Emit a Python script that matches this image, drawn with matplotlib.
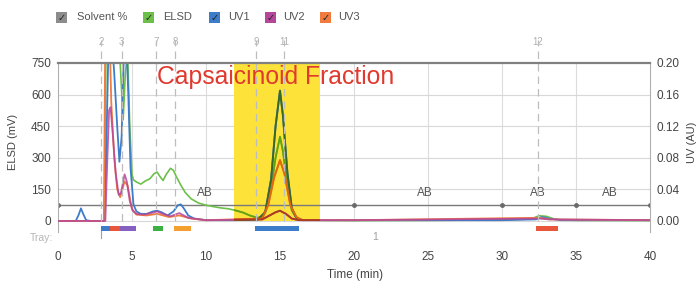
import matplotlib
matplotlib.use("Agg")
import matplotlib.pyplot as plt
from matplotlib.patches import Rectangle
from matplotlib.colors import to_rgb
import numpy as np

plt.rcParams['font.family'] = ['Liberation Sans', 'DejaVu Sans']

# ---------------- data ----------------
elsd_t = [0, 1, 2, 3.0, 3.15, 3.25, 3.4, 3.7, 4.0, 4.2, 4.4, 4.55, 4.7, 4.85, 5.0, 5.1, 5.3, 5.6, 5.9,
          6.2, 6.5, 6.7, 6.9, 7.1, 7.3, 7.6, 7.8, 8.0, 8.3, 8.6, 9.0, 9.5, 10, 10.5, 11, 11.5, 12, 12.5,
          13, 13.5, 13.8, 14.1, 14.4, 14.7, 15.0, 15.2, 15.5, 15.8, 16.1, 16.5, 18, 20, 25, 30, 32,
          32.5, 33, 33.5, 34, 35, 40]
elsd_v = [0, 0, 0, 0, 5, 900, 1000, 950, 900, 750, 480, 700, 800, 450, 220, 195, 185, 175, 190,
          200, 225, 232, 210, 192, 220, 250, 240, 210, 170, 135, 105, 85, 75, 68, 62, 58, 50, 40,
          25, 15, 20, 60, 160, 300, 400, 330, 160, 50, 15, 5, 3, 2, 3, 5, 10,
          25, 22, 10, 5, 3, 2]

uv1_t = [0, 1.2, 1.4, 1.55, 1.7, 1.9, 2.2, 3.1, 3.25, 3.4, 3.6, 3.8, 4.0, 4.15, 4.3, 4.45, 4.6, 4.75,
         4.9, 5.1, 5.3, 5.6, 6.0, 6.4, 6.7, 7.0, 7.4, 7.8, 8.1, 8.3, 8.5, 8.8, 9.2, 10, 12, 13.5, 14.0,
         14.4, 14.7, 15.0, 15.2, 15.5, 15.8, 16.1, 16.5, 20, 30, 32.3, 32.7, 33.2, 34, 40]
uv1_v = [0, 0, .008, .016, .009, .001, 0, 0, .08, .213, .24, .187, .12, .075, .107, .213, .24, .16,
         .067, .021, .012, .009, .009, .012, .013, .011, .007, .012, .020, .021, .016, .007, .003, .001,
         .001, .002, .011, .053, .12, .165, .133, .061, .016, .004, .001, .001, .001, .002, .005, .003,
         .001, .001]

uv2_t = [0, 3.2, 3.3, 3.45, 3.55, 3.7, 3.9, 4.1, 4.25, 4.5, 4.65, 4.85, 5.05, 5.3, 5.8, 6.3, 6.7, 7.1,
         7.6, 8.2, 8.8, 10, 13.8, 14.3, 14.7, 15.0, 15.4, 15.8, 16.3, 20, 32.5, 33.2, 40]
uv2_v = [0, 0, .06, .14, .144, .11, .06, .033, .035, .059, .05, .025, .013, .009, .008, .010, .012,
         .009, .006, .010, .004, .001, .002, .007, .011, .013, .009, .003, .001, .001, .003, .002, .001]

uv3_t = [0, 3.1, 3.2, 3.45, 3.6, 3.8, 4.0, 4.2, 4.5, 4.7, 5.0, 5.3, 6.0, 6.7, 7.5, 8.2, 9, 10, 13.8,
         14.2, 14.6, 15.0, 15.3, 15.7, 16.1, 16.5, 20, 32.5, 33.2, 40]
uv3_v = [0, 0, .25, .26, .15, .08, .04, .03, .05, .045, .015, .008, .007, .009, .005, .007, .003, .001,
         .003, .02, .055, .077, .06, .02, .005, .001, .001, .004, .002, .001]

solvent_t = [0, 20, 30, 35, 40]
solvent_level = 76
ab_labels_t = [9.9, 24.8, 32.4, 37.3]

frac_start = [2.9, 3.5, 4.2, 6.4, 7.85, 13.3, 32.3]
frac_end = [3.5, 4.2, 5.3, 7.1, 9.0, 16.3, 33.8]
frac_col = ['#3d7cc9', '#e8563c', '#8560c0', '#3cb043', '#f4a030', '#3d7cc9', '#e8563c']

marker_t = [2.9, 4.3, 6.6, 7.9, 13.4, 15.3, 32.4]
marker_lab = ['2', '3', '7', '8', '9', '11', '12']

fraction_span = (11.9, 17.7)

xticks = [0, 5, 10, 15, 20, 25, 30, 35, 40]
yticks = [0, 150, 300, 450, 600, 750]
yticks_r = [0.00, 0.04, 0.08, 0.12, 0.16, 0.20]

c_solv, c_elsd, c_uv1, c_uv2, c_uv3 = '#8c8c8c', '#6cc04a', '#3d7cc9', '#b5479b', '#f07b3f'
yellow = '#fde23a'


def multiply(c, base=yellow, k=0.95):
    a = np.array(to_rgb(c))
    b = np.array(to_rgb(base))
    return tuple(np.clip(a * b * k, 0, 1))


# ---------------- figure ----------------
fig = plt.figure(figsize=(6.98, 2.84), dpi=100)
ax = fig.add_axes([58/698, 1-231.5/284, 592/698, (231.5-63)/284])
ymin = -50
ax.set_xlim(0, 40)
ax.set_ylim(ymin, 750)
ax2 = ax.twinx()
ax2.set_ylim(ymin*0.2/750, 0.2)

# grid
for x in xticks[1:-1]:
    ax.plot([x, x], [0, 750], color='#dcdcdc', lw=0.8, zorder=0)
for y in yticks[:-1]:
    ax.plot([0, 40], [y, y], color='#d8d8d8', lw=0.8, zorder=0)
ax2.plot([0, 40], [0.2, 0.2], color='#808080', lw=1.6, zorder=8, clip_on=False)

for s in ['top', 'bottom']:
    ax.spines[s].set_visible(False)
    ax2.spines[s].set_visible(False)
ax.spines['left'].set_color('#b0b0b0')
ax2.spines['right'].set_color('#b0b0b0')
ax2.spines['left'].set_visible(False)
ax.spines['right'].set_visible(False)

ax.set_xticks(xticks)
ax.set_xticklabels([str(x) for x in xticks])
ax.tick_params(axis='x', length=0, pad=14, labelsize=8.5, labelcolor='#444444')
ax.set_yticks(yticks)
ax.tick_params(axis='y', length=0, pad=5, labelsize=8.5, labelcolor='#444444')
ax2.set_yticks(yticks_r)
ax2.set_yticklabels(['%.2f' % v for v in yticks_r])
ax2.tick_params(axis='y', length=0, pad=5, labelsize=8.5, labelcolor='#444444')

# fraction highlight (under the traces, on the primary axes)
ax.add_patch(Rectangle((fraction_span[0], 0), fraction_span[1]-fraction_span[0], 750,
                       facecolor=yellow, edgecolor='none', zorder=0.5))
clip_rect1 = Rectangle((fraction_span[0], 0), fraction_span[1]-fraction_span[0], 750,
                       transform=ax.transData, facecolor='none', edgecolor='none')
clip_rect2 = Rectangle((fraction_span[0], 0), fraction_span[1]-fraction_span[0], 0.2,
                       transform=ax2.transData, facecolor='none', edgecolor='none')

# solvent line
ax.plot([0, 40], [solvent_level]*2, color='#7a7a7a', lw=1.0, zorder=1)
ax.plot(solvent_t, [solvent_level]*len(solvent_t), ls='none', marker='o', ms=2.5,
        color='#6a6a6a', zorder=1)
for t in ab_labels_t:
    ax.text(t, solvent_level + 28, 'AB', ha='center', va='bottom', fontsize=8.5, color='#555555')

# ELSD
ax.plot(elsd_t, elsd_v, color=c_elsd, lw=1.2, zorder=2)
l, = ax.plot(elsd_t, elsd_v, color=multiply(c_elsd), lw=1.3, zorder=2.1)
l.set_clip_path(clip_rect1)
# UV
for tt, vv, cc, a in [(uv1_t, uv1_v, c_uv1, 1.0), (uv3_t, uv3_v, c_uv3, 1.0), (uv2_t, uv2_v, c_uv2, 0.85)]:
    ax2.plot(tt, vv, color=cc, lw=1.3, zorder=2, alpha=a)
    l, = ax2.plot(tt, vv, color=multiply(cc), lw=1.4, zorder=2.1)
    l.set_clip_path(clip_rect2)

# fraction bars
for s, e, c in zip(frac_start, frac_end, frac_col):
    ax2.add_patch(Rectangle((s, -0.0121), e - s, 0.0062, facecolor=c, edgecolor='none', zorder=6,
                            clip_on=False))

# dashed markers
for t, lab in zip(marker_t, marker_lab):
    ax2.plot([t, t], [0, 0.229], color='#bdbdbd', lw=0.9, ls=(0, (6, 4)), zorder=3, clip_on=False)
    ax.text(t, 850, lab, ha='center', va='center', fontsize=7, color='#b0b0b0', clip_on=False)

# tray
ax.plot([2.9, 2.9], [-45, -80], color='#a0a0a0', lw=0.8, clip_on=False)
fig.text(30/698, 1-238/284, 'Tray:', fontsize=7.5, color='#b5b5b5', ha='left', va='center')
ax.text(21.4, -78, '1', fontsize=7.5, color='#a0a0a0', ha='center', va='center', clip_on=False)

# title text
ax2.text(6.7, 0.182, 'Capsaicinoid Fraction', fontsize=17.8, color='#e03a2e', ha='left',
         va='center', zorder=9)

# axis labels
fig.text(13/698, 1-142/284, 'ELSD (mV)', rotation=90, fontsize=8, color='#444444',
         ha='center', va='center')
fig.text(692/698, 1-142/284, 'UV (AU)', rotation=90, fontsize=8, color='#444444',
         ha='center', va='center')
fig.text(355/698, 1-275/284, 'Time (min)', fontsize=8.5, color='#444444', ha='center', va='center')

# legend
leg = [('Solvent %', c_solv, 56, 77), ('ELSD', c_elsd, 143, 163), ('UV1', c_uv1, 209, 228),
       ('UV2', c_uv2, 265, 283), ('UV3', c_uv3, 320, 338)]
for name, col, bx, tx in leg:
    fig.patches.append(Rectangle((bx/698, 1-23/284), 11/698, 11/284, facecolor=col,
                                 edgecolor='none', transform=fig.transFigure, figure=fig))
    fig.text((bx+5.5)/698, 1-17.5/284, '\u2713', fontsize=7, color='#222222', ha='center',
             va='center', family=['DejaVu Sans'])
    fig.text(tx/698, 1-17.5/284, name, fontsize=8, color='#555555', ha='left', va='center')

fig.savefig('out.png', dpi=100)
